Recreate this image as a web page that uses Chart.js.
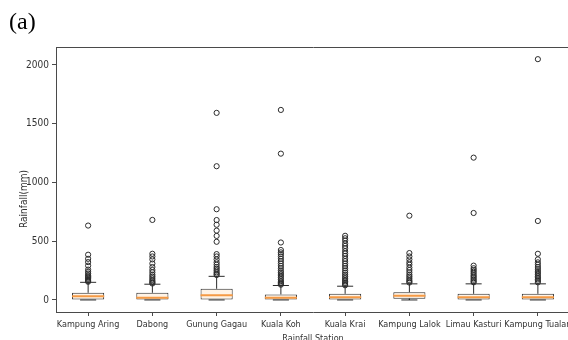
<!DOCTYPE html>
<html>
<head>
<meta charset="utf-8">
<script src="https://cdn.jsdelivr.net/npm/chart.js@4/dist/chart.umd.min.js"></script>
<style>
  html, body { margin: 0; padding: 0; background: #fff; overflow: hidden; }
  #wrap { position: relative; width: 568px; height: 340px; overflow: hidden; }
  #panel {
    position: absolute; left: 9px; top: 9px;
    font-family: "Liberation Serif", "Times New Roman", serif;
    font-size: 24px; line-height: 24px; color: #000;
  }
  canvas { position: absolute; left: 0; top: 0; }
</style>
</head>
<body>
<div id="wrap">
  <canvas id="c" width="580" height="350"></canvas>
  <div id="panel">(a)</div>
</div>
<script>
// Rainfall (mm) box-plot summaries per station
const stations = ["Kampung Aring", "Dabong", "Gunung Gagau", "Kuala Koh",
                  "Kuala Krai", "Kampung Lalok", "Limau Kasturi", "Kampung Tualan"];
const whiskerLow  = [0, 0, 0, 0, 0, 0, 0, 0];
const q1          = [0, 0, 0, 0, 0, 10, 0, 0];
const medians     = [32, 19, 41, 18, 24, 35, 24, 22];
const q3          = [61, 61, 95, 47, 52, 66, 52, 52];
const whiskerHigh = [150, 134, 201, 123, 117, 137, 137, 137];
const outliers = [
  [633, 385, 350, 322, 292, 258, 240, 225, 210, 200, 190, 180, 170, 162, 155],
  [681, 393, 370, 345, 310, 280, 255, 235, 215, 200, 185, 170, 158, 148, 140],
  [1592, 1138, 772, 680, 640, 590, 545, 495, 390, 370, 345, 320, 300, 280, 265, 250, 235, 222, 212],
  [1617, 1245, 489, 425, 405, 390, 370, 350, 330, 310, 290, 270, 250, 235, 220, 205, 190, 175, 160, 148, 138, 130],
  [546, 525, 505, 480, 460, 440, 415, 395, 375, 350, 330, 310, 290, 270, 250, 232, 215, 200, 185, 170, 158, 145, 135, 125],
  [717, 399, 370, 345, 320, 300, 275, 255, 235, 215, 200, 185, 170, 158, 148],
  [1211, 740, 292, 270, 255, 240, 225, 210, 198, 185, 172, 160, 150],
  [2049, 672, 393, 345, 320, 300, 280, 262, 245, 230, 215, 200, 188, 175, 162, 150]
];
const yTicks = [0, 500, 1000, 1500, 2000];
const yTitle = 'Rainfall(mm)';

const BOX_HALF = 0.25;   // box half-width in category units
const CAP_HALF = 0.125;  // whisker cap half-width
const GAP = (x) => ({ x: x, y: null });

// Box bodies as floating bars
const boxData = stations.map((s, i) => ({ x: i + 1, y: [q1[i], q3[i]] }));

// Whiskers and caps as broken line segments
const whiskerData = [];
stations.forEach((s, i) => {
  const x = i + 1;
  whiskerData.push({ x, y: q3[i] }, { x, y: whiskerHigh[i] }, GAP(x));
  whiskerData.push({ x: x - CAP_HALF, y: whiskerHigh[i] }, { x: x + CAP_HALF, y: whiskerHigh[i] }, GAP(x));
  whiskerData.push({ x, y: q1[i] }, { x, y: whiskerLow[i] }, GAP(x));
  whiskerData.push({ x: x - CAP_HALF, y: whiskerLow[i] }, { x: x + CAP_HALF, y: whiskerLow[i] }, GAP(x));
});

// Median lines
const medianData = [];
stations.forEach((s, i) => {
  const x = i + 1;
  medianData.push({ x: x - BOX_HALF, y: medians[i] }, { x: x + BOX_HALF, y: medians[i] }, GAP(x));
});

// Flier points
const outlierData = [];
outliers.forEach((vals, i) => vals.forEach(v => outlierData.push({ x: i + 1, y: v })));

const FONT_FAMILY = "'DejaVu Sans Condensed', 'Liberation Sans Narrow', 'DejaVu Sans', sans-serif";
const FONT = { family: FONT_FAMILY, size: 10 };
const XFONT = { family: FONT_FAMILY, size: 9 };
const TEXT = '#333333';
const AXIS = '#4a4a4a';

// Vertical axis caption, placed a little below the axis midpoint
const yCaption = {
  id: 'yCaption',
  afterDraw(chart) {
    const ctx = chart.ctx;
    ctx.save();
    ctx.translate(24, 199);
    ctx.rotate(-Math.PI / 2);
    ctx.font = '10px ' + FONT_FAMILY;
    ctx.fillStyle = TEXT;
    ctx.textAlign = 'center';
    ctx.textBaseline = 'middle';
    ctx.fillText(yTitle, 0, 0);
    ctx.restore();
  }
};

new Chart(document.getElementById('c'), {
  data: {
    datasets: [
      {
        type: 'scatter', label: 'outliers', data: outlierData, order: 0,
        pointStyle: 'circle', pointRadius: 2.6, pointHoverRadius: 2.6,
        pointBackgroundColor: 'rgba(0,0,0,0)', pointBorderColor: '#2b2b2b', pointBorderWidth: 1
      },
      {
        type: 'line', label: 'median', data: medianData, order: 1,
        borderColor: '#f59a45', borderWidth: 2, pointRadius: 0, spanGaps: false, tension: 0, fill: false
      },
      {
        type: 'bar', label: 'box', data: boxData, order: 2,
        backgroundColor: '#fff3e6', borderColor: '#2b2b2b', borderWidth: 1, borderSkipped: false,
        barPercentage: 0.5, categoryPercentage: 1.0
      },
      {
        type: 'line', label: 'whiskers', data: whiskerData, order: 3,
        borderColor: '#2b2b2b', borderWidth: 1, pointRadius: 0, spanGaps: false, tension: 0, fill: false
      }
    ]
  },
  options: {
    responsive: false,
    animation: false,
    layout: { padding: { left: 0, top: 0, right: 10, bottom: 0 } },
    plugins: { legend: { display: false }, tooltip: { enabled: false } },
    scales: {
      x: {
        type: 'linear', position: 'bottom', min: 0.5, max: 8.5, offset: false,
        afterBuildTicks: (scale) => { scale.ticks = stations.map((s, i) => ({ value: i + 1 })); },
        afterFit: (scale) => { scale.height = 38; },
        ticks: {
          autoSkip: false, maxRotation: 0, minRotation: 0, padding: 3,
          color: TEXT, font: XFONT,
          callback: (v) => stations[v - 1]
        },
        grid: { display: true, offset: false, drawOnChartArea: false, drawTicks: true, tickLength: 4, color: AXIS },
        border: { display: true, color: AXIS, width: 1 },
        title: { display: true, text: 'Rainfall Station', color: TEXT, font: XFONT, padding: { top: 0, bottom: 6 } }
      },
      xTop: {
        type: 'linear', position: 'top', min: 0.5, max: 8.5, offset: false,
        afterFit: (scale) => { scale.height = 47; },
        ticks: { display: false },
        grid: { display: false },
        border: { display: true, color: AXIS, width: 1 }
      },
      y: {
        type: 'linear', position: 'left', min: -102.5, max: 2152.5,
        afterBuildTicks: (scale) => { scale.ticks = yTicks.map(v => ({ value: v })); },
        afterFit: (scale) => { scale.width = 56; },
        ticks: { padding: 3, color: TEXT, font: FONT, callback: (v) => String(v) },
        grid: { display: true, drawOnChartArea: false, drawTicks: true, tickLength: 4, color: AXIS },
        border: { display: true, color: AXIS, width: 1 },
        title: { display: false }
      }
    }
  },
  plugins: [yCaption]
});
</script>
</body>
</html>
